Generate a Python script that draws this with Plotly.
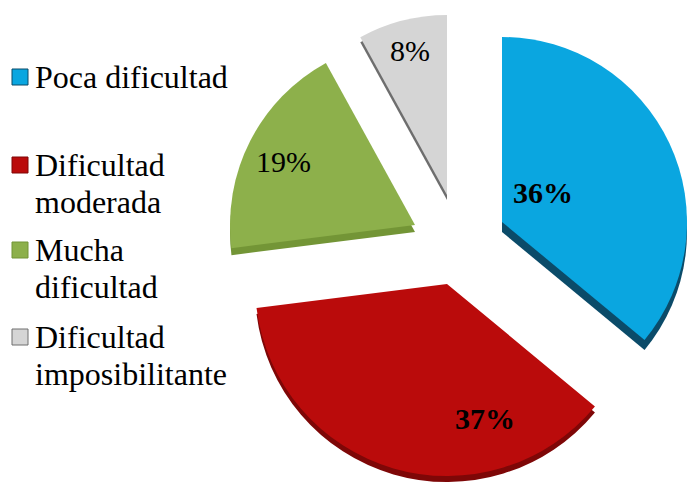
import plotly.graph_objects as go

# Data
categories = ["Poca dificultad", "Dificultad moderada", "Mucha dificultad", "Dificultad imposibilitante"]
legend_lines = [["Poca dificultad"], ["Dificultad", "moderada"], ["Mucha", "dificultad"], ["Dificultad", "imposibilitante"]]
values = [36, 37, 19, 8]

# Styling
W, H = 691, 483
top_colors = ["#0AA6E0", "#BA0B0B", "#8DB04B", "#D5D5D5"]
side_colors = ["#0B4B69", "#7E0707", "#739536", "#6E6E6E"]
bold_label = [True, True, False, False]
FONT = "Liberation Serif"

# Exploded layout: each wedge's tip sits at pie centre + offset (pixels)
CENTER = (458, 228)
OFFSETS = [(44, -6), (-11, 56), (-43, -3), (-11, -33)]
RADII = [185, 192, 185, 180]
DEPTH = [10, 6, 7, 5]

# Label anchor points (pixels) and legend rows (pixel centres)
LABEL_POS = [(543, 192), (485, 418), (283, 162), (410, 50)]
LEGEND_ROWS = [77, 165, 250, 337]
LINE_GAP = 37


def px_domain(cx, cy, r):
    return dict(x=[(cx - r) / W, (cx + r) / W], y=[1 - (cy + r) / H, 1 - (cy - r) / H])


def wedge(i, colors, dy, name):
    cx = CENTER[0] + OFFSETS[i][0]
    cy = CENTER[1] + OFFSETS[i][1] + dy
    cols = ["rgba(0,0,0,0)"] * len(values)
    cols[i] = colors[i]
    return go.Pie(
        labels=categories,
        values=values,
        sort=False,
        direction="clockwise",
        rotation=0,
        domain=px_domain(cx, cy, RADII[i]),
        marker=dict(colors=cols, line=dict(width=0)),
        textinfo="none",
        hoverinfo="skip" if dy else "label+percent",
        showlegend=False,
        name=name,
    )


fig = go.Figure()
# side faces first, then the top faces
for i in range(len(values)):
    fig.add_trace(wedge(i, side_colors, DEPTH[i], "side"))
for i in range(len(values)):
    fig.add_trace(wedge(i, top_colors, 0, "top"))

total = sum(values)
annotations = []
for i, v in enumerate(values):
    pct = f"{round(100 * v / total)}%"
    txt = f"<b>{pct}</b>" if bold_label[i] else pct
    annotations.append(dict(
        x=LABEL_POS[i][0] / W, y=1 - LABEL_POS[i][1] / H, xref="paper", yref="paper",
        text=txt, showarrow=False, xanchor="center", yanchor="middle",
        font=dict(family=FONT, size=30, color="black"),
    ))

shapes = []
for i, lines in enumerate(legend_lines):
    yc = LEGEND_ROWS[i]
    shapes.append(dict(
        type="rect", xref="paper", yref="paper",
        x0=12 / W, x1=28 / W, y0=1 - (yc + 8) / H, y1=1 - (yc - 8) / H,
        fillcolor=top_colors[i], line=dict(color=side_colors[i], width=1),
    ))
    for k, line in enumerate(lines):
        annotations.append(dict(
            x=33 / W, y=1 - (yc + k * LINE_GAP) / H, xref="paper", yref="paper",
            text=line, showarrow=False, xanchor="left", yanchor="middle",
            font=dict(family=FONT, size=32, color="black"),
        ))

fig.update_layout(
    width=W, height=H,
    margin=dict(l=0, r=0, t=0, b=0),
    paper_bgcolor="white", plot_bgcolor="white",
    annotations=annotations, shapes=shapes,
    showlegend=False,
)

fig.write_html("out.html")
